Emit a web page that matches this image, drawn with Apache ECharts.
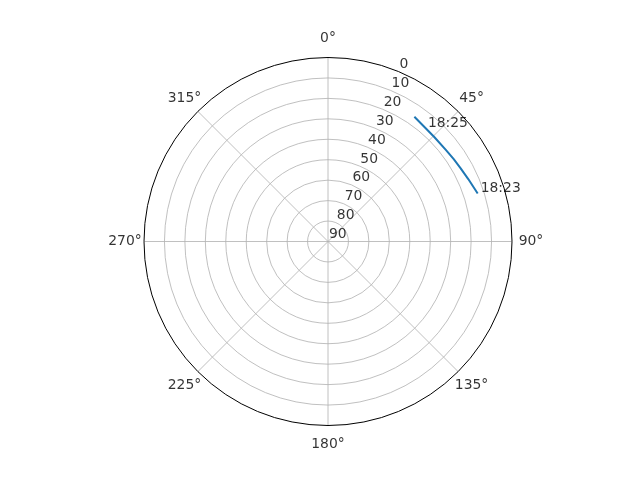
<!DOCTYPE html>
<html><head><meta charset="utf-8">
<script src="https://cdn.jsdelivr.net/npm/echarts@6/dist/echarts.min.js"></script>
<style>html,body{margin:0;padding:0;background:#fff}#c{width:640px;height:480px}</style>
</head><body><div id="c"></div>
<script>
const angleTicks = [0, 45, 90, 135, 180, 225, 270, 315];
const radiusTicks = [0, 10, 20, 30, 40, 50, 60, 70, 80, 90];
const trackAzimuth = [34.7, 40.5, 45.6, 52.0, 56.8, 61.0, 66.0, 72.2];
const trackElevation = [15.8, 16.8, 17.1, 17.0, 16.5, 15.9, 14.9, 13.1];
const timeLabels = ['18:25', '18:23'];
const timeAzimuth = [40.5, 72.2];
const timeElevation = [17.0, 13.1];
const radiusLabelAngle = 22.5;

const FONT = 'DejaVu Sans';
const FS = 13.9;
const CENTER = [328, 241.5];

const chart = echarts.init(document.getElementById('c'), null, {renderer: 'canvas'});
const splitColors = radiusTicks.map((r, i) => i === 0 ? 'rgba(0,0,0,0)' : '#b0b0b0');

chart.setOption({
  animation: false,
  backgroundColor: '#fff',
  polar: [
    {center: CENTER, radius: 184},
    {center: CENTER, radius: 203}
  ],
  angleAxis: [
    {
      polarIndex: 0, type: 'value', min: 0, max: 360, interval: 45,
      startAngle: 90, clockwise: true, z: 3,
      axisLine: {show: true, lineStyle: {color: '#000', width: 1}},
      axisTick: {show: false},
      axisLabel: {show: false},
      splitLine: {show: true, lineStyle: {color: '#b0b0b0', width: 0.8}}
    },
    {
      polarIndex: 1, type: 'value', min: 0, max: 360, interval: 45,
      startAngle: 90, clockwise: true, show: false,
      axisLine: {show: false}, axisTick: {show: false},
      axisLabel: {show: false}, splitLine: {show: false}
    }
  ],
  radiusAxis: [
    {
      polarIndex: 0, type: 'value', min: 0, max: 90, interval: 10, inverse: true, z: 2,
      axisLine: {show: false}, axisTick: {show: false}, axisLabel: {show: false},
      splitLine: {show: true, lineStyle: {color: splitColors, width: 0.8}}
    },
    {
      polarIndex: 1, type: 'value', min: 0, max: 1, show: false,
      axisLine: {show: false}, axisTick: {show: false},
      axisLabel: {show: false}, splitLine: {show: false}
    }
  ],
  series: [
    {
      type: 'line', coordinateSystem: 'polar', polarIndex: 0, z: 5,
      symbol: 'none', smooth: false,
      lineStyle: {color: '#1f77b4', width: 2},
      data: trackAzimuth.map((a, i) => [trackElevation[i], a])
    },
    {
      type: 'scatter', coordinateSystem: 'polar', polarIndex: 0, z: 6,
      symbolSize: 0, silent: true,
      data: timeLabels.map((t, i) => [timeElevation[i], timeAzimuth[i], t]),
      label: {
        show: true, position: 'right', distance: 3, offset: [0, -5],
        formatter: p => p.value[2],
        color: '#000', fontSize: FS, fontFamily: FONT
      }
    },
    {
      type: 'scatter', coordinateSystem: 'polar', polarIndex: 0, z: 6,
      symbolSize: 0, silent: true,
      data: radiusTicks.map(r => [r, radiusLabelAngle]),
      label: {
        show: true, position: 'right', distance: 0, offset: [1, -7],
        formatter: p => String(p.value[0]),
        color: '#000', fontSize: FS, fontFamily: FONT
      }
    },
    {
      type: 'scatter', coordinateSystem: 'polar', polarIndex: 1, z: 6,
      symbolSize: 0, silent: true,
      data: angleTicks.map(a => [1, a]),
      label: {
        show: true, position: 'inside',
        formatter: p => p.value[1] + '°',
        color: '#000', fontSize: FS, fontFamily: FONT
      }
    }
  ]
});
</script>
</body></html>
